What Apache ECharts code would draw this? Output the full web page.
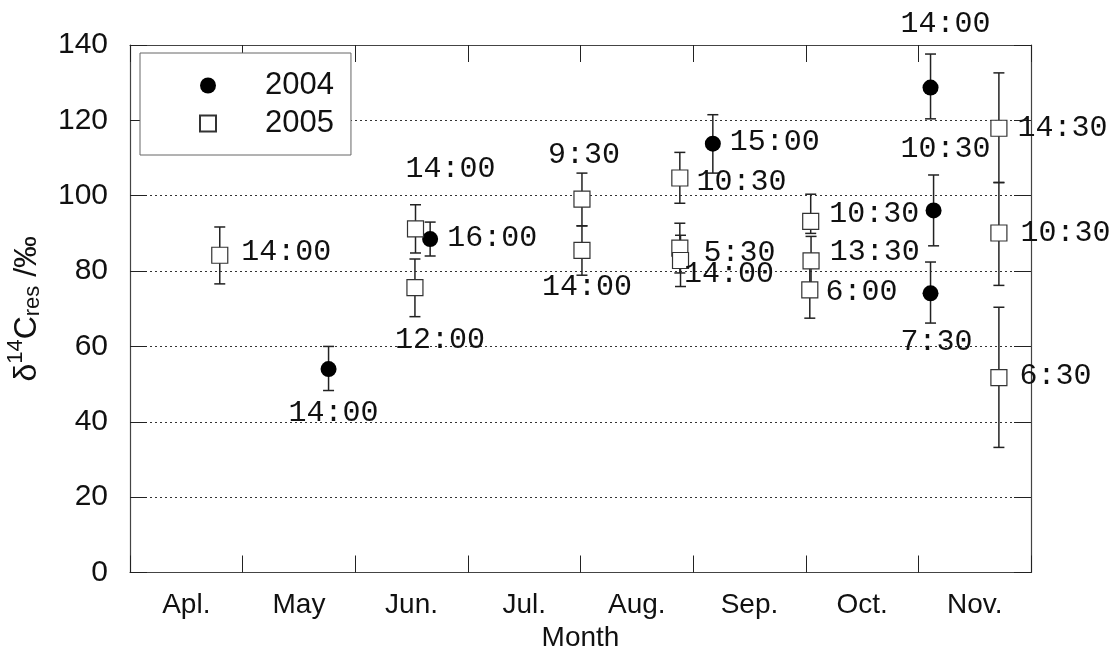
<!DOCTYPE html>
<html>
<head>
<meta charset="utf-8">
<script src="https://cdn.jsdelivr.net/npm/echarts@6/dist/echarts.min.js"></script>
<style>
  html, body { margin: 0; padding: 0; background: #fff; }
  #chart { width: 1115px; height: 653px; }
</style>
</head>
<body>
<div id="chart"></div>
<script>
// months (x axis, 0 = 1 Apr, 1 month per unit)
const months = ['Apl.', 'May', 'Jun.', 'Jul.', 'Aug.', 'Sep.', 'Oct.', 'Nov.'];

// 2004 (filled circles)
const x04 = [1.763, 2.665, 5.175, 7.108, 7.135, 7.108];
const y04 = [54.0, 88.5, 113.8, 128.7, 96.1, 74.1];
const lo04 = [48.3, 84.0, 106.0, 120.4, 86.7, 66.2];
const hi04 = [60.0, 93.0, 121.5, 137.6, 105.5, 82.4];
const t04 = ['14:00', '16:00', '15:00', '14:00', '10:30', '7:30'];

// 2005 (open squares)
const x05 = [0.797, 2.535, 2.530, 4.013, 4.013, 4.882, 4.882, 4.888, 6.044, 6.047, 6.036, 7.715, 7.715, 7.715];
const y05 = [84.2, 91.2, 75.6, 99.1, 85.5, 104.7, 86.1, 82.8, 93.2, 82.7, 75.0, 117.9, 90.1, 51.7];
const lo05 = [76.6, 84.8, 67.9, 92.0, 78.9, 98.0, 79.5, 75.9, 90.0, 76.5, 67.5, 103.5, 76.2, 33.2];
const hi05 = [91.7, 97.6, 83.2, 106.0, 92.0, 111.5, 92.7, 89.5, 100.4, 89.2, 82.5, 132.6, 103.5, 70.4];
const t05 = ['14:00', '14:00', '12:00', '9:30', '14:00', '10:30', '5:30', '14:00', '10:30', '13:30', '6:00', '14:30', '10:30', '6:30'];

// where each time label sits: ['r', distance, dy] to the right, ['c', dx, dy] around the point
const place04 = [['c', 5, 44], ['r', 9, -1], ['r', 9, -2], ['c', 15, -64], ['c', 12, -61], ['c', 6, 49]];
const place05 = [['r', 13, -3], ['c', 35, -60], ['c', 25, 52], ['c', 2, -44], ['c', 5, 37],
  ['r', 8, 4], ['r', 15, 5], ['r', -5, 14], ['r', 10, -7], ['r', 10, -9], ['r', 7, 2],
  ['r', 10, 0], ['r', 13, 0], ['r', 12, -2]];

const ink = '#222';
const labelFont = 'Liberation Mono';
const sansFont = 'Liberation Sans';

function pointData(xs, ys, ts, places) {
  return xs.map((x, i) => {
    const p = places[i];
    const label = { show: true, formatter: ts[i] };
    if (p[0] === 'r') {
      label.position = 'right';
      label.distance = p[1];
      label.offset = [0, p[2]];
    } else {
      label.position = 'inside';
      label.offset = [p[1], p[2]];
    }
    return { value: [x, ys[i]], label: label };
  });
}

function barData(xs, lo, hi) {
  return xs.map((x, i) => [x, lo[i], hi[i]]);
}

function renderBar(params, api) {
  const x = api.value(0);
  const top = api.coord([x, api.value(2)]);
  const bot = api.coord([x, api.value(1)]);
  const w = 5.5;
  const st = { stroke: ink, lineWidth: 1.5 };
  return {
    type: 'group',
    children: [
      { type: 'line', shape: { x1: top[0], y1: top[1], x2: bot[0], y2: bot[1] }, style: st },
      { type: 'line', shape: { x1: top[0] - w, y1: top[1], x2: top[0] + w, y2: top[1] }, style: st },
      { type: 'line', shape: { x1: bot[0] - w, y1: bot[1], x2: bot[0] + w, y2: bot[1] }, style: st }
    ]
  };
}

const chart = echarts.init(document.getElementById('chart'));

const tickIn = { show: true, inside: true, length: 17, lineStyle: { color: ink, width: 1 } };
const frameLine = { show: true, lineStyle: { color: '#444', width: 1.2 } };

chart.setOption({
  animation: false,
  backgroundColor: '#fff',
  grid: { left: 130, right: 84, top: 45, bottom: 80.5, containLabel: false, outerBoundsMode: 'none' },
  legend: {
    orient: 'vertical',
    left: 140,
    top: 53,
    data: ['2004', '2005'],
    backgroundColor: '#fff',
    borderColor: '#666',
    borderWidth: 1,
    padding: [17, 17, 16, 59],
    itemWidth: 16,
    itemHeight: 16,
    itemGap: 7,
    textStyle: { fontFamily: sansFont, fontSize: 31, lineHeight: 31, color: '#111', padding: [0, 0, 0, 44] }
  },
  xAxis: [
    { type: 'value', min: 0, max: 8, show: false },
    {
      type: 'category', position: 'bottom', data: months, boundaryGap: true,
      axisLine: frameLine, axisTick: tickIn,
      axisLabel: { fontFamily: sansFont, fontSize: 28, color: '#111', margin: 19 },
      name: 'Month', nameLocation: 'middle', nameGap: 47,
      nameTextStyle: { fontFamily: sansFont, fontSize: 28, color: '#111' }
    },
    {
      type: 'category', position: 'top', data: months, boundaryGap: true,
      axisLine: frameLine, axisTick: tickIn, axisLabel: { show: false }
    }
  ],
  yAxis: [
    {
      type: 'value', min: 0, max: 140, interval: 20, position: 'left',
      axisLine: frameLine, axisTick: tickIn,
      axisLabel: { fontFamily: sansFont, fontSize: 30, color: '#111', margin: 22 },
      splitLine: { show: true, lineStyle: { color: '#333', type: [2, 3], width: 1 } },
      name: '{a|δ}{b|14}{a|C}{c|res}{a| /‰}',
      nameLocation: 'middle', nameRotate: 90, nameGap: 81,
      nameTextStyle: {
        fontFamily: sansFont, color: '#111',
        rich: {
          a: { fontFamily: sansFont, fontSize: 32, color: '#111', verticalAlign: 'middle' },
          b: { fontFamily: sansFont, fontSize: 22, color: '#111', verticalAlign: 'middle', padding: [0, 0, 22, 0] },
          c: { fontFamily: sansFont, fontSize: 22, color: '#111', verticalAlign: 'middle', padding: [12, 0, 0, 0] }
        }
      }
    },
    {
      type: 'value', min: 0, max: 140, interval: 20, position: 'right',
      axisLine: frameLine, axisTick: tickIn, axisLabel: { show: false }, splitLine: { show: false }
    }
  ],
  series: [
    {
      name: 'err2004', type: 'custom', xAxisIndex: 0, yAxisIndex: 0, z: 3,
      renderItem: renderBar, data: barData(x04, lo04, hi04)
    },
    {
      name: 'err2005', type: 'custom', xAxisIndex: 0, yAxisIndex: 0, z: 3,
      renderItem: renderBar, data: barData(x05, lo05, hi05)
    },
    {
      name: '2004', type: 'scatter', xAxisIndex: 0, yAxisIndex: 0, z: 5,
      symbol: 'circle', symbolSize: 16,
      itemStyle: { color: '#000', opacity: 1 },
      label: { fontFamily: labelFont, fontSize: 30, color: '#111' },
      data: pointData(x04, y04, t04, place04)
    },
    {
      name: '2005', type: 'scatter', xAxisIndex: 0, yAxisIndex: 0, z: 5,
      symbol: 'rect', symbolSize: 16,
      itemStyle: { color: '#fff', borderColor: '#333', borderWidth: 1.2, opacity: 1 },
      label: { fontFamily: labelFont, fontSize: 30, color: '#111' },
      data: pointData(x05, y05, t05, place05)
    }
  ]
});
</script>
</body>
</html>
